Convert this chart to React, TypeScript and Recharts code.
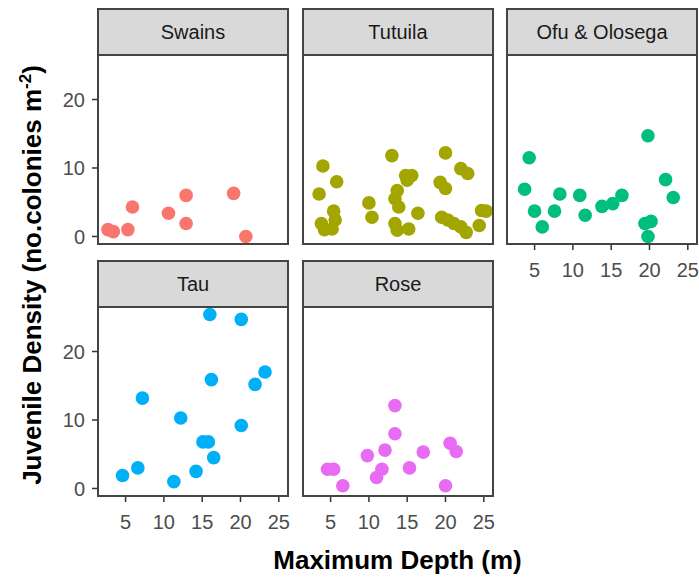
import { ScatterChart, Scatter, XAxis, YAxis } from "recharts";

// depth (m) vs juvenile density per island
const swainsDepth = [2.7, 3.4, 5.3, 5.9, 10.6, 12.9, 12.9, 19.1, 20.7];
const swainsDensity = [1.0, 0.7, 1.0, 4.3, 3.4, 6.0, 1.9, 6.3, 0.0];

const tutuilaDepth = [
  4.0, 5.8, 3.5, 5.4, 5.6, 5.2, 3.8, 4.2, 10.0, 10.4, 13.0, 14.8, 15.6, 15.0,
  13.7, 13.4, 13.9, 16.4, 13.4, 13.7, 15.2, 20.0, 19.3, 20.0, 22.0, 22.9, 19.5,
  20.3, 21.1, 22.0, 22.7, 24.7, 25.3, 24.4,
];
const tutuilaDensity = [
  10.3, 8.0, 6.2, 3.7, 2.4, 1.1, 1.9, 1.0, 4.9, 2.8, 11.8, 8.9, 8.9, 8.2, 6.7,
  5.5, 4.3, 3.4, 1.9, 0.9, 1.1, 12.2, 7.9, 7.0, 9.9, 9.2, 2.8, 2.4, 1.9, 1.4,
  0.6, 3.8, 3.7, 1.6,
];

const ofuDepth = [4.3, 3.7, 5.0, 6.0, 7.6, 8.3, 10.9, 11.6, 13.8, 15.2, 16.4, 19.8, 19.4, 20.2, 19.8, 22.1, 23.1];
const ofuDensity = [11.5, 6.9, 3.7, 1.4, 3.7, 6.2, 6.0, 3.1, 4.4, 4.8, 6.0, 14.7, 1.9, 2.2, 0.0, 8.3, 5.7];

const tauDepth = [16.0, 20.1, 23.2, 21.9, 16.2, 7.2, 12.2, 20.1, 15.1, 15.8, 16.5, 14.2, 6.6, 4.6, 11.3];
const tauDensity = [25.4, 24.7, 17.0, 15.2, 15.9, 13.2, 10.3, 9.2, 6.8, 6.8, 4.5, 2.5, 3.0, 1.9, 1.0];

const roseDepth = [13.4, 13.4, 12.1, 9.8, 17.1, 20.6, 21.4, 4.6, 5.4, 6.6, 11.7, 11.0, 15.3, 20.0];
const roseDensity = [12.1, 8.0, 5.6, 4.8, 5.3, 6.6, 5.4, 2.8, 2.8, 0.4, 2.8, 1.6, 3.0, 0.4];

const X_TICKS = [5, 10, 15, 20, 25];
const Y_TICKS = [0, 10, 20];
const X_DOMAIN = [1.4, 26.2];
const Y_DOMAIN = [-1.1, 26.5];

const COL_X = [98, 303, 507];
const STRIP_TOP = [8, 260];
const STRIP_H = 47;
const PW = 190;
const PH = 189;
const PAD = 15; // room round each chart so edge labels are not clipped

const LINE = "#444";
const FONT = '"Liberation Sans", Arial, sans-serif';

function Dot(props: any) {
  return <circle cx={props.cx} cy={props.cy} r={6.8} fill={props.fill} />;
}

interface PanelProps {
  name: string;
  depth: number[];
  density: number[];
  color: string;
  col: number;
  row: number;
  showX: boolean;
  showY: boolean;
}

function Panel({ name, depth, density, color, col, row, showX, showY }: PanelProps) {
  const data = depth.map((d, i) => ({ depth: d, density: density[i] }));
  const left = COL_X[col];
  const stripTop = STRIP_TOP[row];
  const top = stripTop + STRIP_H;
  const yW = showY ? 60 : 0;
  const xH = showX ? 50 : 0;
  const rightPad = col === 2 ? 2 : PAD;

  return (
    <>
      <div
        style={{
          position: "absolute",
          left: left - 1,
          top: stripTop,
          width: PW + 2,
          height: STRIP_H + 1,
          boxSizing: "border-box",
          border: `2px solid ${LINE}`,
          background: "#D9D9D9",
          color: "#1A1A1A",
          fontSize: 20,
          display: "flex",
          alignItems: "center",
          justifyContent: "center",
        }}
      >
        {name}
      </div>
      <div style={{ position: "absolute", left: left - yW, top: top - PAD }}>
        <ScatterChart
          width={PW + yW + rightPad}
          height={PH + xH + 2 * PAD}
          margin={{ top: PAD, right: rightPad, bottom: PAD, left: 0 }}
        >
          <XAxis
            type="number"
            dataKey="depth"
            domain={X_DOMAIN}
            ticks={X_TICKS}
            interval={0}
            allowDataOverflow
            hide={!showX}
            height={xH}
            axisLine={false}
            tickSize={6}
            tickMargin={13}
            tickLine={{ stroke: "#333", strokeWidth: 1.5 }}
            tick={{ fill: "#4D4D4D", fontSize: 20 }}
          />
          <YAxis
            type="number"
            dataKey="density"
            domain={Y_DOMAIN}
            ticks={Y_TICKS}
            interval={0}
            allowDataOverflow
            hide={!showY}
            width={yW}
            axisLine={false}
            tickSize={6}
            tickMargin={7}
            tickLine={{ stroke: "#333", strokeWidth: 1.5 }}
            tick={{ fill: "#4D4D4D", fontSize: 20 }}
          />
          <Scatter data={data} fill={color} shape={Dot} isAnimationActive={false} />
        </ScatterChart>
      </div>
      <div
        style={{
          position: "absolute",
          left: left - 1,
          top: top - 1,
          width: PW + 2,
          height: PH + 2,
          boxSizing: "border-box",
          border: `2px solid ${LINE}`,
          pointerEvents: "none",
        }}
      />
    </>
  );
}

export default function App() {
  return (
    <div
      style={{
        position: "absolute",
        left: 0,
        top: 0,
        width: 699,
        height: 580,
        background: "#fff",
        fontFamily: FONT,
        overflow: "hidden",
      }}
    >
      <Panel name="Swains" depth={swainsDepth} density={swainsDensity} color="#F8766D" col={0} row={0} showX={false} showY />
      <Panel name="Tutuila" depth={tutuilaDepth} density={tutuilaDensity} color="#A3A500" col={1} row={0} showX={false} showY={false} />
      <Panel name="Ofu & Olosega" depth={ofuDepth} density={ofuDensity} color="#00BF7D" col={2} row={0} showX showY={false} />
      <Panel name="Tau" depth={tauDepth} density={tauDensity} color="#00B0F6" col={0} row={1} showX showY />
      <Panel name="Rose" depth={roseDepth} density={roseDensity} color="#E76BF3" col={1} row={1} showX showY={false} />

      <div
        style={{
          position: "absolute",
          left: 98,
          top: 545,
          width: 599,
          textAlign: "center",
          fontSize: 26,
          lineHeight: "30px",
          fontWeight: "bold",
          color: "#000",
        }}
      >
        Maximum Depth (m)
      </div>
      <div
        style={{
          position: "absolute",
          left: 32 - 230,
          top: 275 - 18,
          width: 460,
          height: 36,
          lineHeight: "36px",
          textAlign: "center",
          fontSize: 26,
          fontWeight: "bold",
          color: "#000",
          transform: "rotate(-90deg)",
          whiteSpace: "nowrap",
        }}
      >
        Juvenile Density (no.colonies m<sup style={{ fontSize: 17, verticalAlign: "10px", lineHeight: 0 }}>-2</sup>)
      </div>
    </div>
  );
}
